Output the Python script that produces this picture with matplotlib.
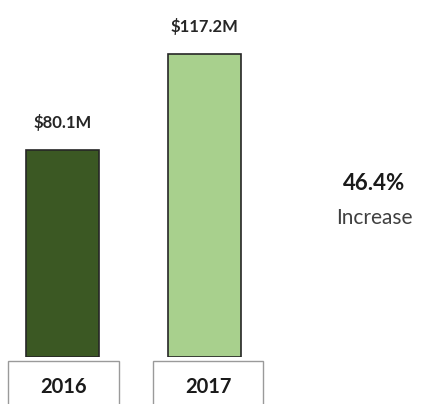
import matplotlib
matplotlib.use("Agg")
import matplotlib.pyplot as plt
from matplotlib.patches import Rectangle

years = ["2016", "2017"]
revenue = [80.1, 117.2]
value_labels = ["$80.1M", "$117.2M"]
bar_colors = ["#3b5823", "#a8d08d"]
change_pct = "46.4%"
change_word = "Increase"

plt.rcParams["font.family"] = ["Lato", "DejaVu Sans"]

fig = plt.figure(figsize=(4.21, 4.04), dpi=100)
W, H = 421, 404
# axes area: full width, from top down to the bar baseline
ax = fig.add_axes([0, 1 - 357 / H, 1, 357 / H])
ax.set_xlim(-0.437, 2.517)
ax.set_ylim(0, 138.2)
ax.axis("off")

x = list(range(len(years)))
bars = ax.bar(x, revenue, width=0.51, color=bar_colors,
              edgecolor="#262626", linewidth=1.2)

for xi, v, lab in zip(x, revenue, value_labels):
    ax.text(xi, v + 7.5, lab, ha="center", va="bottom",
            fontsize=12, fontweight="bold", color="#262626")

ax.text(2.19, 67, change_pct, ha="center", va="center",
        fontsize=16, fontweight="bold", color="#1a1a1a")
ax.text(2.19, 54, change_word, ha="center", va="center",
        fontsize=15, color="#404040")

# year boxes under the bars
box_x = [(8, 111), (153, 110)]
for (bx, bw), yr in zip(box_x, years):
    fig.patches.append(Rectangle((bx / W, -0.05), bw / W, 0.05 + (404 - 361) / H,
                                 transform=fig.transFigure, facecolor="white",
                                 edgecolor="#9a9a9a", linewidth=1.0))
    fig.text((bx + bw / 2) / W, 1 - 387 / H, yr, ha="center", va="center",
             fontsize=14.5, fontweight="bold", color="#1a1a1a")

fig.savefig("out.png", dpi=100)
